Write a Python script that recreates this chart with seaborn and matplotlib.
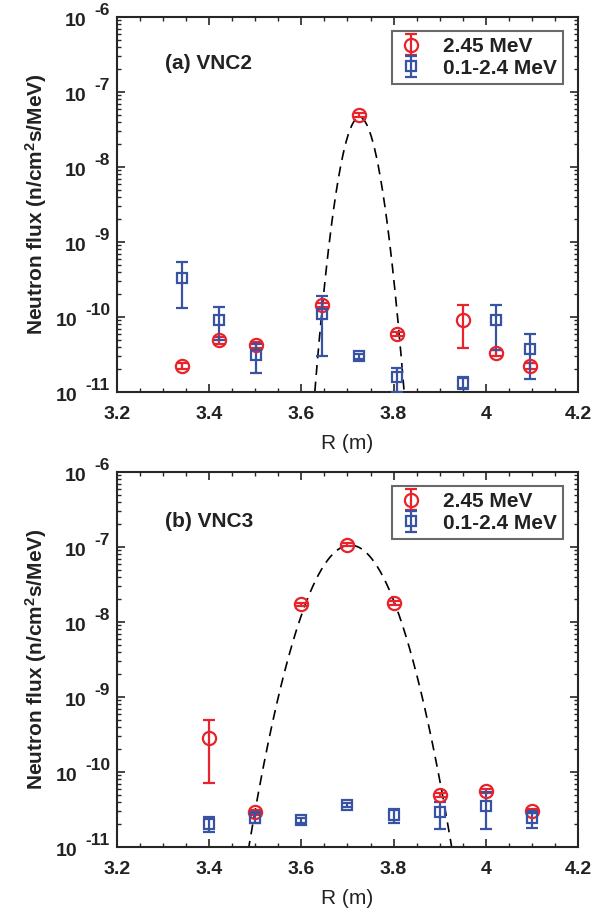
import numpy as np
import pandas as pd
import matplotlib
matplotlib.use("Agg")
import matplotlib.pyplot as plt
import matplotlib.transforms as mtransforms
import seaborn as sns
from matplotlib.ticker import LogLocator, MultipleLocator, FixedLocator, NullFormatter

# ---------------- data ----------------
# panel (a) VNC2
r_a = [3.340, 3.421, 3.502, 3.644, 3.725, 3.807, 3.951, 4.022, 4.096]
red_a = [2.2e-11, 4.9e-11, 4.2e-11, 1.45e-10, 4.9e-8, 6.0e-11, 9.2e-11, 3.3e-11, 2.2e-11]
red_a_lo = [2.0e-11, 4.4e-11, 3.8e-11, 1.35e-10, 4.6e-8, 5.6e-11, 3.8e-11, 3.0e-11, 2.0e-11]
red_a_hi = [2.4e-11, 5.4e-11, 4.6e-11, 1.55e-10, 5.2e-8, 6.4e-11, 1.45e-10, 3.6e-11, 2.4e-11]
blue_a = [3.3e-10, 9.0e-11, 3.1e-11, 1.1e-10, 3.0e-11, 1.6e-11, 1.3e-11, 9.0e-11, 3.7e-11]
blue_a_lo = [1.3e-10, 5.0e-11, 1.8e-11, 3.0e-11, 2.75e-11, 1.0e-11, 1.1e-11, 3.6e-11, 1.5e-11]
blue_a_hi = [5.4e-10, 1.35e-10, 4.3e-11, 1.9e-10, 3.25e-11, 2.1e-11, 1.6e-11, 1.45e-10, 6.0e-11]
fit_a = dict(amp=4.6e-8, mu=3.726, sigma=0.0236)

# panel (b) VNC3
r_b = [3.4, 3.5, 3.6, 3.7, 3.8, 3.9, 4.0, 4.1]
red_b = [2.84e-10, 2.9e-11, 1.72e-8, 1.07e-7, 1.81e-8, 5.0e-11, 5.6e-11, 3.0e-11]
red_b_lo = [7.1e-11, 2.7e-11, 1.62e-8, 1.02e-7, 1.71e-8, 4.7e-11, 5.3e-11, 2.8e-11]
red_b_hi = [4.9e-10, 3.1e-11, 1.82e-8, 1.12e-7, 1.91e-8, 5.3e-11, 5.9e-11, 3.2e-11]
blue_b = [2.0e-11, 2.45e-11, 2.27e-11, 3.66e-11, 2.64e-11, 2.9e-11, 3.5e-11, 2.4e-11]
blue_b_lo = [1.6e-11, 2.1e-11, 2.1e-11, 3.45e-11, 2.1e-11, 1.75e-11, 1.75e-11, 1.8e-11]
blue_b_hi = [2.5e-11, 2.9e-11, 2.45e-11, 3.9e-11, 3.2e-11, 4.0e-11, 5.4e-11, 3.0e-11]
fit_b = dict(amp=1.06e-7, mu=3.706, sigma=0.0511)

panel_labels = ["(a) VNC2", "(b) VNC3"]
legend_labels = ["2.45 MeV", "0.1-2.4 MeV"]
xticks = [3.2, 3.4, 3.6, 3.8, 4.0, 4.2]
xticklabels = ["3.2", "3.4", "3.6", "3.8", "4", "4.2"]
yticks = [1e-11, 1e-10, 1e-9, 1e-8, 1e-7, 1e-6]
ytick_exps = ["-11", "-10", "-9", "-8", "-7", "-6"]

# ---------------- style ----------------
sns.set_theme(style="ticks")
plt.rcParams["font.family"] = ["Liberation Sans", "DejaVu Sans"]
plt.rcParams["mathtext.fontset"] = "custom"
plt.rcParams["mathtext.rm"] = "Liberation Sans:bold"
plt.rcParams["mathtext.bf"] = "Liberation Sans:bold"
plt.rcParams["mathtext.it"] = "Liberation Sans:bold"

RED = "#e8232b"
BLUE = "#3953a4"
FRAME = "#262626"
TXT = "#222222"

fig = plt.figure(figsize=(6.04, 9.09), dpi=100)
ax_a = fig.add_axes([0.1937, 0.5688, 0.7632, 0.4125])
ax_b = fig.add_axes([0.1937, 0.0682, 0.7632, 0.4125])

exp_texts = []

def draw(ax, r, red, rlo, rhi, blue, blo, bhi, fit, label, label_y):
    red = np.array(red); blue = np.array(blue)
    h1 = ax.errorbar(r, red, yerr=[red - np.array(rlo), np.array(rhi) - red],
                     fmt="o", ms=9.5, mfc="none", mec=RED, mew=1.6, color=RED,
                     elinewidth=1.6, capsize=4.5, capthick=1.6, zorder=3,
                     label=legend_labels[0])
    h2 = ax.errorbar(r, blue, yerr=[blue - np.array(blo), np.array(bhi) - blue],
                     fmt="s", ms=7.5, mfc="none", mec=BLUE, mew=1.6, color=BLUE,
                     elinewidth=1.6, capsize=4.5, capthick=1.6, zorder=3,
                     label=legend_labels[1])
    xs = np.linspace(3.2, 4.2, 801)
    ys = fit["amp"] * np.exp(-(xs - fit["mu"]) ** 2 / (2 * fit["sigma"] ** 2))
    df = pd.DataFrame({"R": xs, "flux": ys})
    df = df[df["flux"] > 5e-12]
    sns.lineplot(data=df, x="R", y="flux", ax=ax, color="black", lw=1.2,
                 linestyle=(0, (6, 4)), zorder=2, legend=False)
    ax.set_yscale("log")
    ax.set_xlim(3.2, 4.2)
    ax.set_ylim(1e-11, 1e-6)
    ax.xaxis.set_major_locator(FixedLocator(xticks))
    ax.set_xticklabels(xticklabels)
    ax.xaxis.set_minor_locator(MultipleLocator(0.05))
    ax.yaxis.set_major_locator(FixedLocator(yticks))
    ax.set_yticklabels([])
    ax.yaxis.set_minor_locator(LogLocator(base=10, subs=np.arange(2, 10)))
    ax.yaxis.set_minor_formatter(NullFormatter())
    ax.tick_params(axis="both", which="both", direction="in", top=True, right=True,
                   color=FRAME)
    ax.tick_params(axis="both", which="major", length=6, width=1.2,
                   labelsize=14, labelcolor=TXT)
    ax.tick_params(axis="x", which="major", pad=10)
    ax.tick_params(axis="both", which="minor", length=3, width=1.0)
    for t in ax.get_xticklabels():
        t.set_fontweight("bold")
    for s in ax.spines.values():
        s.set_linewidth(1.5)
        s.set_color(FRAME)
    # exponent part of y tick labels
    for yv, ex in zip(yticks, ytick_exps):
        tr_e = mtransforms.offset_copy(ax.get_yaxis_transform(), fig=fig, x=-5, y=5, units="points")
        t = ax.text(0, yv, ex, transform=tr_e, ha="right", va="center", fontsize=12.5,
                    fontweight="bold", color=TXT)
        exp_texts.append((ax, yv, t))
    ax.set_xlabel("R (m)", fontsize=15, color=TXT, labelpad=8)
    ax.set_ylabel(r"Neutron flux (n/cm$^{2}$s/MeV)", fontsize=15,
                  fontweight="bold", color=TXT, va="center")
    ax.yaxis.set_label_coords(-0.175, 0.5)
    ax.text(0.104, label_y, label, transform=ax.transAxes, fontsize=15,
            fontweight="bold", color=TXT, ha="left", va="center")
    leg = ax.legend(handles=[h1, h2], loc="upper right",
                    bbox_to_anchor=(0.967, 0.963), frameon=True, fancybox=False,
                    prop={"weight": "bold", "size": 15}, handlelength=1.3,
                    handletextpad=0.85, borderpad=0.3, labelspacing=0.12,
                    borderaxespad=0)
    leg.get_frame().set_edgecolor("#444444")
    leg.get_frame().set_linewidth(1.5)
    for t in leg.get_texts():
        t.set_color(TXT)

draw(ax_a, r_a, red_a, red_a_lo, red_a_hi, blue_a, blue_a_lo, blue_a_hi, fit_a,
     panel_labels[0], 0.877)
draw(ax_b, r_b, red_b, red_b_lo, red_b_hi, blue_b, blue_b_lo, blue_b_hi, fit_b,
     panel_labels[1], 0.867)

# place the "10" base of each y tick label left of its exponent
fig.canvas.draw()
renderer = fig.canvas.get_renderer()
for ax, yv, t in exp_texts:
    w_px = t.get_window_extent(renderer).width
    off_pt = -5 - (w_px + 8) * 72 / fig.dpi
    tr_b = mtransforms.offset_copy(ax.get_yaxis_transform(), fig=fig, x=off_pt,
                                   y=-3.5, units="points")
    ax.text(0, yv, "10", transform=tr_b, ha="right", va="center", fontsize=14,
            fontweight="bold", color=TXT)

fig.savefig("out.png", dpi=100)
